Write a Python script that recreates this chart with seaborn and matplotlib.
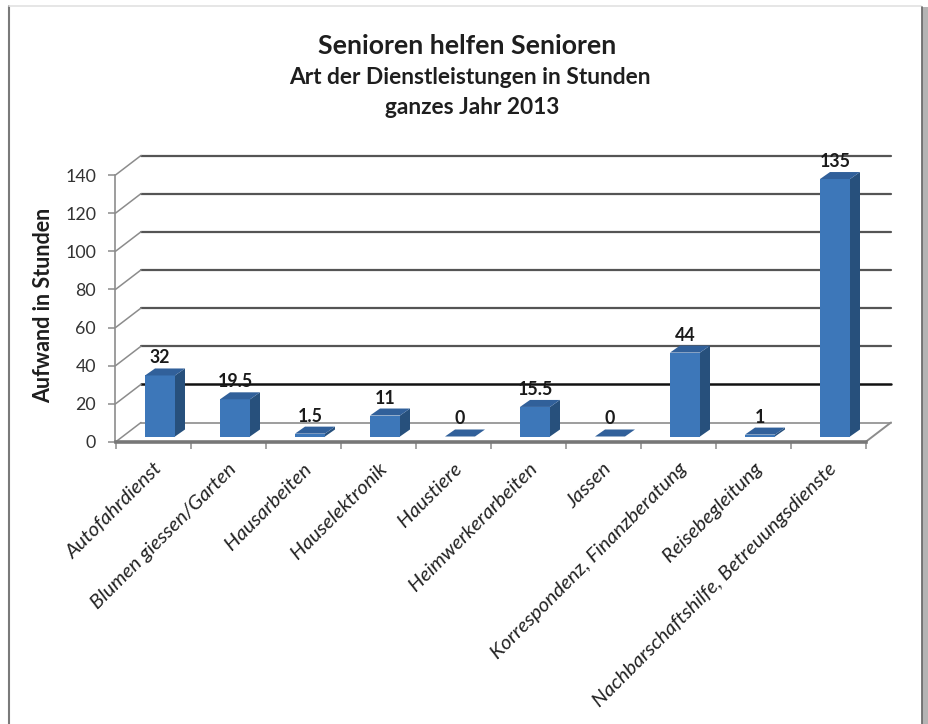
import numpy as np
import pandas as pd
import seaborn as sns
import matplotlib
matplotlib.use("Agg")
import matplotlib.pyplot as plt
from matplotlib.transforms import ScaledTranslation
from matplotlib.patches import Polygon, Rectangle
from matplotlib.lines import Line2D

# ---------------- data ----------------
categories = [
    "Autofahrdienst",
    "Blumen giessen/Garten",
    "Hausarbeiten",
    "Hauselektronik",
    "Haustiere",
    "Heimwerkerarbeiten",
    "Jassen",
    "Korrespondenz, Finanzberatung",
    "Reisebegleitung",
    "Nachbarschaftshilfe, Betreuungsdienste",
]
values = [32, 19.5, 1.5, 11, 0, 15.5, 0, 44, 1, 135]
value_labels = ["32", "19.5", "1.5", "11", "0", "15.5", "0", "44", "1", "135"]
y_ticks = [0, 20, 40, 60, 80, 100, 120, 140]

title_lines = ["Senioren helfen Senioren",
               "Art der Dienstleistungen in Stunden",
               "ganzes Jahr 2013"]
y_label = "Aufwand in Stunden"

# ---------------- style ----------------
FRONT = "#3D77B9"
SIDE = "#27507C"
TOP = "#31609A"
GRID = "#555555"
LIGHT = "#8c8c8c"

sns.set_theme(style="white")
plt.rcParams["font.family"] = ["Lato", "DejaVu Sans"]

W, H = 929, 724
DPI = 100
fig = plt.figure(figsize=(W / DPI, H / DPI), dpi=DPI)
fig.patch.set_facecolor("white")

# axes = front plane of the 3D box
ax = fig.add_axes([115.5 / W, (H - 442) / H, 750 / W, 267 / H])
ax.set_facecolor("none")

df = pd.DataFrame({"Kategorie": categories, "Stunden": values})
sns.barplot(data=df, x="Kategorie", y="Stunden", order=categories,
            color=FRONT, saturation=1, width=0.4, linewidth=0,
            errorbar=None, ax=ax, zorder=3)

n = len(categories)
ax.set_xlim(-0.5, n - 0.5)
ax.set_ylim(y_ticks[0], y_ticks[-1])

px_x = ax.bbox.width / (n)                       # pixels per category
px_y = ax.bbox.height / (y_ticks[-1] - y_ticks[0])  # pixels per unit


def off(dx_px, dy_px):
    return ScaledTranslation(dx_px / DPI, dy_px / DPI, fig.dpi_scale_trans)


# wall depth in data units
wdx, wdy = 25.5 / px_x, 19.5 / px_y
# bar depth in data units
bdx, bdy = 10.0 / px_x, 7.0 / px_y
bar_tr = ax.transData + off(7, 5.5)

# back wall gridlines + left wall connectors
x0, x1 = -0.5, n - 0.5
for v in y_ticks:
    col = "#111111" if v == 20 else (LIGHT if v == 0 else GRID)
    lw = 1.8 if v == 20 else (1.2 if v == 0 else 1.6)
    ax.add_line(Line2D([x0 + wdx, x1 + wdx], [v + wdy, v + wdy],
                       color=col, lw=lw, clip_on=False, zorder=1))
    ax.add_line(Line2D([x0, x0 + wdx], [v, v + wdy], color=LIGHT,
                       lw=1.1, clip_on=False, zorder=1))
# right floor edge
ax.add_line(Line2D([x1, x1 + wdx], [0, wdy], color=LIGHT, lw=1.4,
                   clip_on=False, zorder=1))

# 3D faces for bars
for p in list(ax.patches):
    x, w, h = p.get_x(), p.get_width(), p.get_height()
    p.set_transform(bar_tr)
    p.set_clip_on(False)
    side = Polygon([(x + w, 0), (x + w + bdx, bdy), (x + w + bdx, h + bdy),
                    (x + w, h)], closed=True, facecolor=SIDE, edgecolor="none",
                   transform=bar_tr, clip_on=False, zorder=3)
    top = Polygon([(x, h), (x + w, h), (x + w + bdx, h + bdy), (x + bdx, h + bdy)],
                  closed=True, facecolor=TOP, edgecolor="none",
                  transform=bar_tr, clip_on=False, zorder=3)
    ax.add_patch(side)
    ax.add_patch(top)

# value labels
for i, (v, lab) in enumerate(zip(values, value_labels)):
    ax.text(i, v, lab, transform=ax.transData + off(7, 23),
            ha="center", va="center", fontsize=12.8, fontweight="bold",
            color="#1a1a1a", clip_on=False, zorder=5)

# spines & ticks
for s in ["top", "right"]:
    ax.spines[s].set_visible(False)
ax.spines["left"].set_color(LIGHT)
ax.spines["left"].set_linewidth(1.2)
ax.spines["bottom"].set_color("#777777")
ax.spines["bottom"].set_linewidth(2.6)
ax.spines["bottom"].set_zorder(4)

ax.set_yticks(y_ticks)
ax.set_yticklabels([str(t) for t in y_ticks])
ax.tick_params(axis="y", left=True, direction="out", length=5, width=1.1,
               color=LIGHT, labelsize=12.8, labelcolor="#333333", pad=9)
ax.set_xticks(range(n))
ax.set_xticklabels([])
ax.set_xticks(np.arange(-0.5, n, 1.0), minor=True)
ax.tick_params(axis="x", which="major", bottom=False, length=0)
ax.tick_params(axis="x", which="minor", bottom=True, direction="out",
               length=5, width=1.1, color=LIGHT)
ax.set_xlabel("")
ax.set_ylabel("")
ax.grid(False)

# category labels
for i, c in enumerate(categories):
    ax.text(i, 0, c, transform=ax.transData + off(0, -18), rotation=45,
            rotation_mode="anchor", ha="right", va="top", fontsize=14.7,
            fontstyle="italic", color="#222222", clip_on=False)

# titles
fig.text(467 / W, 1 - 46 / H, title_lines[0], ha="center", va="center",
         fontsize=19.2, fontweight="bold", color="#1e1e1e")
fig.text(470 / W, 1 - 78 / H, title_lines[1], ha="center", va="center",
         fontsize=16.4, fontweight="bold", color="#1e1e1e")
fig.text(472 / W, 1 - 107 / H, title_lines[2], ha="center", va="center",
         fontsize=16.3, fontweight="bold", color="#1e1e1e")

fig.text(44 / W, 1 - 305 / H, y_label, rotation=90, ha="center", va="center",
         fontsize=15.5, fontweight="bold", color="#1e1e1e")

# frame
fig.add_artist(Line2D([9.5 / W, 9.5 / W], [0, 1 - 6 / H], color="#7a7a7a",
                      lw=1.5, transform=fig.transFigure))
fig.add_artist(Line2D([9.5 / W, 921 / W], [1 - 6 / H, 1 - 6 / H],
                      color="#e2e2e2", lw=1.2, transform=fig.transFigure))
fig.add_artist(Rectangle((922 / W, 0), 7 / W, 1 - 7 / H, facecolor="#b4b4b4",
                         edgecolor="none", transform=fig.transFigure))
fig.add_artist(Line2D([922 / W, 922 / W], [0, 1 - 7 / H], color="#6e6e6e",
                      lw=1.3, transform=fig.transFigure))

fig.savefig("out.png", dpi=DPI, facecolor="white")
